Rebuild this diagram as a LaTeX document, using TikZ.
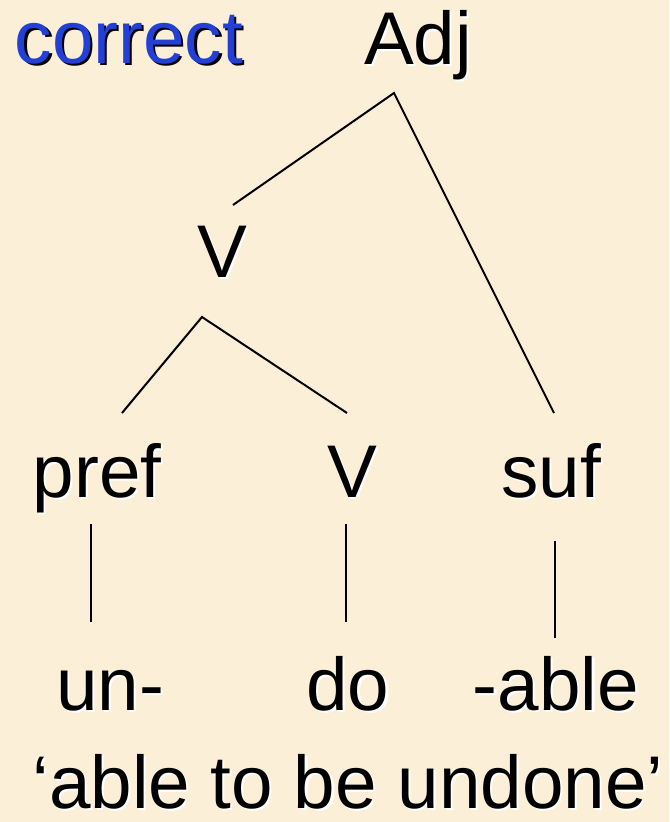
\documentclass[tikz,border=0pt]{standalone}
\usepackage{fontspec}
\setmainfont{Liberation Sans}
\definecolor{bgbeige}{RGB}{251,239,216}
\definecolor{titleblue}{RGB}{35,64,214}
\newcommand\shadowtxt[3]{\rlap{\raisebox{-1.6pt}{\hspace{1.6pt}\textcolor{#2}{#1}}}\textcolor{#3}{#1}}
\tikzset{
  lab/.style={anchor=base, inner sep=0pt, font=\fontsize{56}{62}\selectfont},
  branch/.style={line width=1.5pt, black},
}
\begin{document}
\begin{tikzpicture}[x=0.75pt,y=-0.75pt]
\fill[bgbeige] (0,0) rectangle (669,822);
\useasboundingbox (0,0) rectangle (669,822);
% labels
\node[lab] (correct) at (129,63) {\shadowtxt{correct}{black}{titleblue}};
\node[lab] (adj) at (418,64) {\shadowtxt{Adj}{white}{black}};
\node[lab] (vtop) at (222,277) {\shadowtxt{V}{white}{black}};
\node[lab] (pref) at (97,497) {\shadowtxt{pref}{white}{black}};
\node[lab] (vlow) at (352,497) {\shadowtxt{V}{white}{black}};
\node[lab] (suf) at (551,497) {\shadowtxt{suf}{white}{black}};
\node[lab] (un) at (110,710) {\shadowtxt{un-}{white}{black}};
\node[lab] (do) at (348,710) {\shadowtxt{do}{white}{black}};
\node[lab] (able) at (556,710) {\shadowtxt{-able}{white}{black}};
\node[lab] (gloss) at (348,808) {\shadowtxt{‘able to be undone’}{white}{black}};
% branch points
\coordinate (adjroot) at (394,93);
\coordinate (vtopin) at (233,205);
\coordinate (sufin) at (554,413);
\coordinate (vroot) at (202,317);
\coordinate (prefin) at (122,413);
\coordinate (vlowin) at (347,413);
\coordinate (prefout) at (91,524);
\coordinate (unin) at (91,622);
\coordinate (vlowout) at (346,524);
\coordinate (doin) at (346,622);
\coordinate (sufout) at (555,541);
\coordinate (ablein) at (555,638);
% branches
\draw[branch] (vtopin) -- (adjroot) -- (sufin);
\draw[branch] (prefin) -- (vroot) -- (vlowin);
\draw[branch] (prefout) -- (unin);
\draw[branch] (vlowout) -- (doin);
\draw[branch] (sufout) -- (ablein);
\end{tikzpicture}
\end{document}
